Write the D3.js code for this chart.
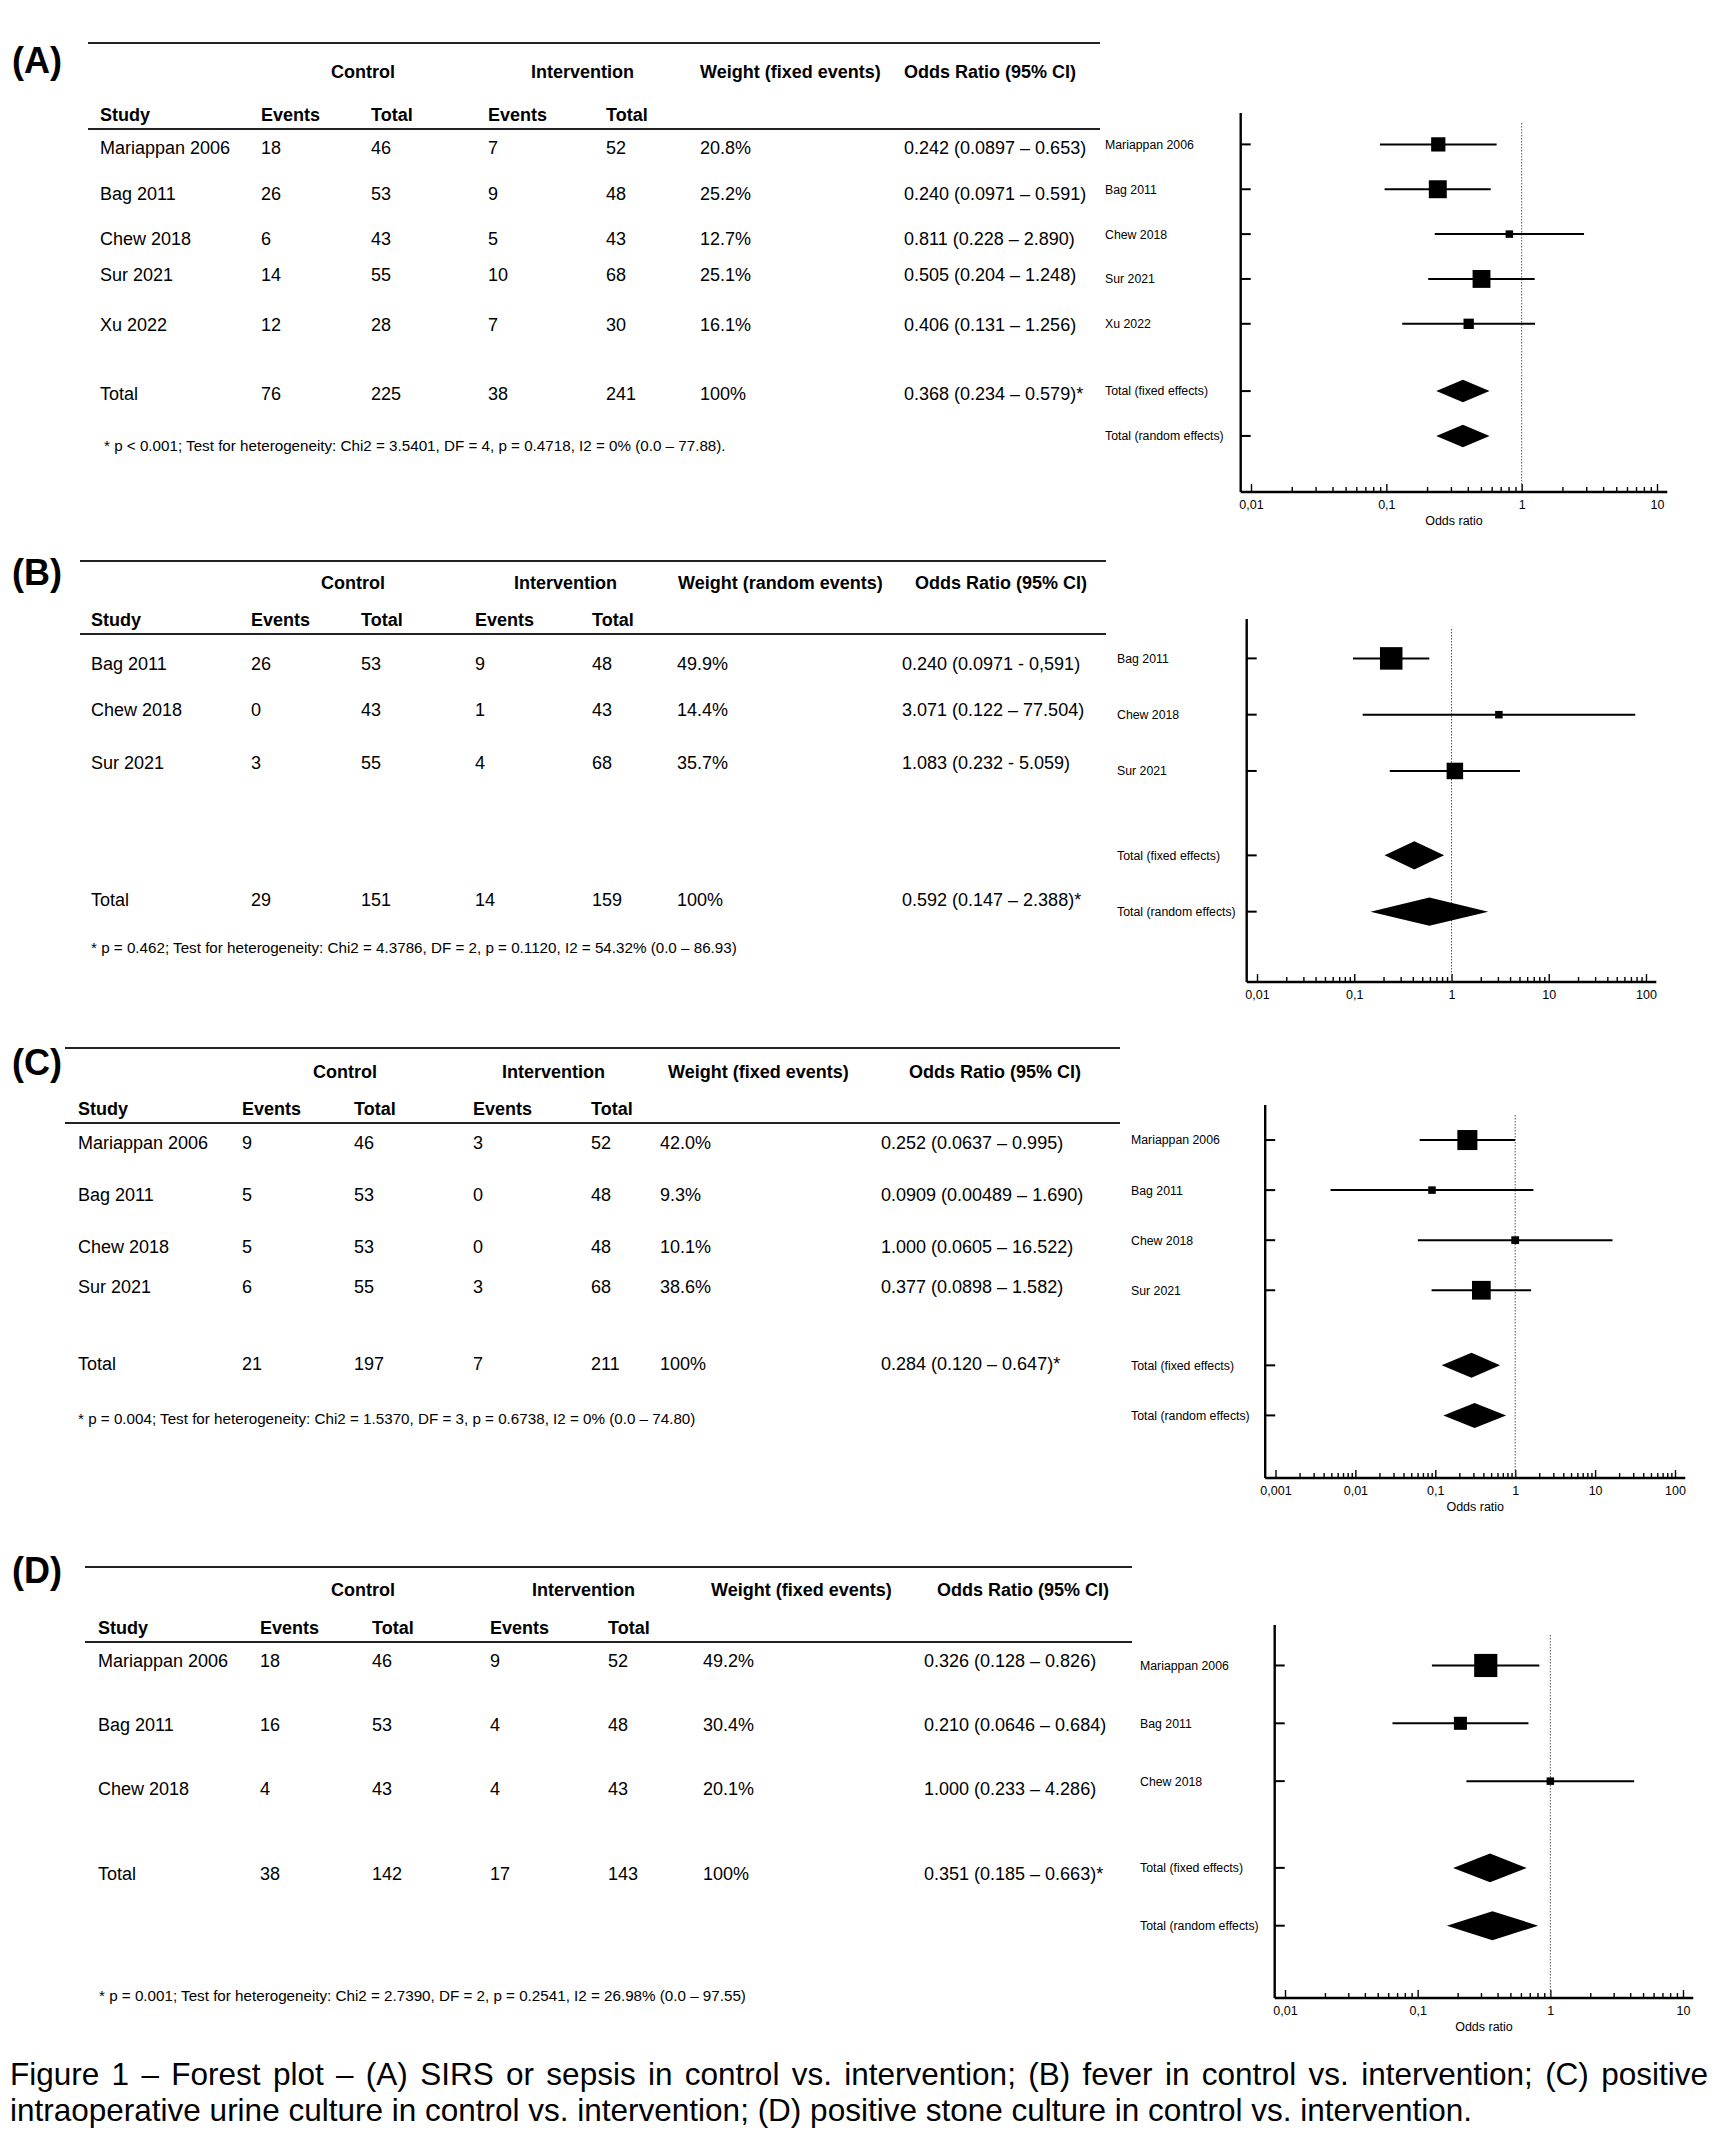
<!DOCTYPE html>
<html>
<head>
<meta charset="utf-8">
<script src="https://cdn.jsdelivr.net/npm/d3@7"></script>
<style>
body { margin: 0; background: #fff; }
text { font-family: "Liberation Sans", Arial, sans-serif; fill: #000; }
</style>
</head>
<body>
<div id="vis"></div>
<script>
// ---------- data ----------
// (A) SIRS or sepsis
var studiesA = ["Mariappan 2006", "Bag 2011", "Chew 2018", "Sur 2021", "Xu 2022"];
var ctrlEventsA = [18, 26, 6, 14, 12];
var ctrlTotalA = [46, 53, 43, 55, 28];
var intEventsA = [7, 9, 5, 10, 7];
var intTotalA = [52, 48, 43, 68, 30];
var weightA = [20.8, 25.2, 12.7, 25.1, 16.1];
var orA = [0.242, 0.240, 0.811, 0.505, 0.406];
var loA = [0.0897, 0.0971, 0.228, 0.204, 0.131];
var hiA = [0.653, 0.591, 2.890, 1.248, 1.256];
var orTextA = ["0.242 (0.0897 – 0.653)", "0.240 (0.0971 – 0.591)", "0.811 (0.228 – 2.890)", "0.505 (0.204 – 1.248)", "0.406 (0.131 – 1.256)"];
var totalA = [76, 225, 38, 241];
var totalTextA = "0.368 (0.234 – 0.579)*";
var fixedA = [0.368, 0.234, 0.579];
var randomA = [0.368, 0.234, 0.579];
var ticksA = [0.01, 0.1, 1, 10];
var noteA = "* p < 0.001; Test for heterogeneity: Chi2 = 3.5401, DF = 4, p = 0.4718, I2 = 0% (0.0 – 77.88).";

// (B) fever
var studiesB = ["Bag 2011", "Chew 2018", "Sur 2021"];
var ctrlEventsB = [26, 0, 3];
var ctrlTotalB = [53, 43, 55];
var intEventsB = [9, 1, 4];
var intTotalB = [48, 43, 68];
var weightB = [49.9, 14.4, 35.7];
var orB = [0.240, 3.071, 1.083];
var loB = [0.0971, 0.122, 0.232];
var hiB = [0.591, 77.504, 5.059];
var orTextB = ["0.240 (0.0971 - 0,591)", "3.071 (0.122 – 77.504)", "1.083 (0.232 - 5.059)"];
var totalB = [29, 151, 14, 159];
var totalTextB = "0.592 (0.147 – 2.388)*";
var fixedB = [0.415, 0.205, 0.84];
var randomB = [0.592, 0.147, 2.388];
var ticksB = [0.01, 0.1, 1, 10, 100];
var noteB = "* p = 0.462; Test for heterogeneity: Chi2 = 4.3786, DF = 2, p = 0.1120, I2 = 54.32% (0.0 – 86.93)";

// (C) positive intraoperative urine culture
var studiesC = ["Mariappan 2006", "Bag 2011", "Chew 2018", "Sur 2021"];
var ctrlEventsC = [9, 5, 5, 6];
var ctrlTotalC = [46, 53, 53, 55];
var intEventsC = [3, 0, 0, 3];
var intTotalC = [52, 48, 48, 68];
var weightC = [42.0, 9.3, 10.1, 38.6];
var orC = [0.252, 0.0909, 1.000, 0.377];
var loC = [0.0637, 0.00489, 0.0605, 0.0898];
var hiC = [0.995, 1.690, 16.522, 1.582];
var orTextC = ["0.252 (0.0637 – 0.995)", "0.0909 (0.00489 – 1.690)", "1.000 (0.0605 – 16.522)", "0.377 (0.0898 – 1.582)"];
var totalC = [21, 197, 7, 211];
var totalTextC = "0.284 (0.120 – 0.647)*";
var fixedC = [0.284, 0.120, 0.647];
var randomC = [0.31, 0.126, 0.77];
var ticksC = [0.001, 0.01, 0.1, 1, 10, 100];
var noteC = "* p = 0.004; Test for heterogeneity: Chi2 = 1.5370, DF = 3, p = 0.6738, I2 = 0% (0.0 – 74.80)";

// (D) positive stone culture
var studiesD = ["Mariappan 2006", "Bag 2011", "Chew 2018"];
var ctrlEventsD = [18, 16, 4];
var ctrlTotalD = [46, 53, 43];
var intEventsD = [9, 4, 4];
var intTotalD = [52, 48, 43];
var weightD = [49.2, 30.4, 20.1];
var orD = [0.326, 0.210, 1.000];
var loD = [0.128, 0.0646, 0.233];
var hiD = [0.826, 0.684, 4.286];
var orTextD = ["0.326 (0.128 – 0.826)", "0.210 (0.0646 – 0.684)", "1.000 (0.233 – 4.286)"];
var totalD = [38, 142, 17, 143];
var totalTextD = "0.351 (0.185 – 0.663)*";
var fixedD = [0.351, 0.185, 0.663];
var randomD = [0.366, 0.166, 0.81];
var ticksD = [0.01, 0.1, 1, 10];
var noteD = "* p = 0.001; Test for heterogeneity: Chi2 = 2.7390, DF = 2, p = 0.2541, I2 = 26.98% (0.0 – 97.55)";

var captionLines = [
  "Figure 1 – Forest plot – (A) SIRS or sepsis in control vs. intervention; (B) fever in control vs. intervention; (C) positive",
  "intraoperative urine culture in control vs. intervention; (D) positive stone culture in control vs. intervention."
];

// ---------- panels (data + layout) ----------
var panels = [
  {id: "(A)", weightHead: "Weight (fixed events)", studies: studiesA, ce: ctrlEventsA, ct: ctrlTotalA, ie: intEventsA, it: intTotalA,
   w: weightA, or: orA, lo: loA, hi: hiA, orText: orTextA, total: totalA, totalText: totalTextA,
   fixed: fixedA, random: randomA, ticks: ticksA, note: noteA,
   L: {labelY: 73, top: 43, h1: 71, h2: 114, rule: 129, x0: 88, x1: 1100,
       cols: [100, 261, 371, 488, 606, 700, 904], head: [331, 531, 700, 904],
       rows: [147, 193, 238, 274, 324], totalY: 393, noteX: 104, noteY: 445,
       fx: [1251, 1657], fTop: 113, fBottom: 492, fLabelX: 1105, xTitle: true}},
  {id: "(B)", weightHead: "Weight (random events)", studies: studiesB, ce: ctrlEventsB, ct: ctrlTotalB, ie: intEventsB, it: intTotalB,
   w: weightB, or: orB, lo: loB, hi: hiB, orText: orTextB, total: totalB, totalText: totalTextB,
   fixed: fixedB, random: randomB, ticks: ticksB, note: noteB,
   L: {labelY: 585, top: 561, h1: 582, h2: 619, rule: 634, x0: 80, x1: 1106,
       cols: [91, 251, 361, 475, 592, 677, 902], head: [321, 514, 678, 915],
       rows: [663, 709, 762], totalY: 899, noteX: 91, noteY: 947,
       fx: [1257, 1646], fTop: 619, fBottom: 982, fLabelX: 1117, xTitle: false}},
  {id: "(C)", weightHead: "Weight (fixed events)", studies: studiesC, ce: ctrlEventsC, ct: ctrlTotalC, ie: intEventsC, it: intTotalC,
   w: weightC, or: orC, lo: loC, hi: hiC, orText: orTextC, total: totalC, totalText: totalTextC,
   fixed: fixedC, random: randomC, ticks: ticksC, note: noteC,
   L: {labelY: 1075, top: 1048, h1: 1071, h2: 1108, rule: 1123, x0: 65, x1: 1120,
       cols: [78, 242, 354, 473, 591, 660, 881], head: [313, 502, 668, 909],
       rows: [1142, 1194, 1246, 1286], totalY: 1363, noteX: 78, noteY: 1418,
       fx: [1275.5, 1675], fTop: 1105, fBottom: 1478, fLabelX: 1131, xTitle: true}},
  {id: "(D)", weightHead: "Weight (fixed events)", studies: studiesD, ce: ctrlEventsD, ct: ctrlTotalD, ie: intEventsD, it: intTotalD,
   w: weightD, or: orD, lo: loD, hi: hiD, orText: orTextD, total: totalD, totalText: totalTextD,
   fixed: fixedD, random: randomD, ticks: ticksD, note: noteD,
   L: {labelY: 1583, top: 1567, h1: 1589, h2: 1627, rule: 1642, x0: 85, x1: 1132,
       cols: [98, 260, 372, 490, 608, 703, 924], head: [331, 532, 711, 937],
       rows: [1660, 1724, 1788], totalY: 1873, noteX: 99, noteY: 1995,
       fx: [1285, 1683], fTop: 1625, fBottom: 1998, fLabelX: 1140, xTitle: true}}
];

var W = 1721, H = 2147;

var svg = d3.select("#vis")
    .append("svg")
    .attr("width", W)
    .attr("height", H)
    .style("display", "block");

svg.append("rect").attr("width", W).attr("height", H).attr("fill", "#fff");

function drawTable(g, p) {
    var L = p.L;
    var fs = 18, off = 6.5;

    g.append("text")
        .attr("x", 12).attr("y", L.labelY)
        .style("font-size", "36px").style("font-weight", "bold")
        .text(p.id);

    [L.top, L.rule].forEach(function(y) {
        g.append("line")
            .attr("x1", L.x0).attr("x2", L.x1)
            .attr("y1", y).attr("y2", y)
            .attr("stroke", "#222").attr("stroke-width", 2);
    });

    var head1 = ["Control", "Intervention", p.weightHead, "Odds Ratio (95% CI)"];
    g.selectAll("text.h1").data(head1).join("text")
        .attr("class", "h1")
        .attr("x", (d, i) => L.head[i]).attr("y", L.h1 + off)
        .style("font-size", fs + "px").style("font-weight", "bold")
        .text(d => d);

    var head2 = ["Study", "Events", "Total", "Events", "Total"];
    g.selectAll("text.h2").data(head2).join("text")
        .attr("class", "h2")
        .attr("x", (d, i) => L.cols[i]).attr("y", L.h2 + off)
        .style("font-size", fs + "px").style("font-weight", "bold")
        .text(d => d);

    // one row of cells per study, then the total row
    var rows = p.studies.map(function(s, i) {
        return {y: L.rows[i], cells: [s, p.ce[i], p.ct[i], p.ie[i], p.it[i], p.w[i].toFixed(1) + "%", p.orText[i]]};
    });
    rows.push({y: L.totalY, cells: ["Total"].concat(p.total, ["100%", p.totalText])});

    rows.forEach(function(r) {
        g.append("g").selectAll("text").data(r.cells).join("text")
            .attr("x", (d, i) => L.cols[i]).attr("y", r.y + off)
            .style("font-size", fs + "px")
            .text(d => d);
    });

    g.append("text")
        .attr("x", L.noteX).attr("y", L.noteY + 5.5)
        .style("font-size", "15.2px")
        .text(p.note);
}

function drawForest(g, p) {
    var L = p.L;
    var n = p.studies.length;
    var x = d3.scaleLog().domain([p.ticks[0], p.ticks[p.ticks.length - 1]]).range(L.fx);
    var y = d3.scaleLinear().domain([-0.7, n + 2.75]).range([L.fTop, L.fBottom]);
    var step = y(1) - y(0);
    var size = d3.scaleLinear().domain(d3.extent(p.w)).range([7.5, 0.4 * step]);
    var left = L.fx[0] - 10.3, right = L.fx[1] + 10.3;

    var minors = [];
    p.ticks.slice(0, -1).forEach(function(t) {
        for (var k = 2; k < 10; k++) minors.push(t * k);
    });

    // x axis
    var fmt = d => String(d).replace(".", ",");
    var ax = g.append("g").attr("transform", "translate(0," + L.fBottom + ")");
    ax.call(d3.axisBottom(x).tickValues(p.ticks).tickSize(-8).tickPadding(8).tickFormat(fmt));
    ax.append("g").call(d3.axisBottom(x).tickValues(minors).tickSize(-5).tickFormat(""));
    ax.selectAll(".domain").remove();
    ax.selectAll("line").attr("stroke", "#000").attr("stroke-width", 1.4);
    ax.selectAll("text")
        .attr("fill", "#000")
        .style("font-size", "12.5px")
        .style("font-family", "'Liberation Sans', Arial, sans-serif");

    g.append("line")
        .attr("x1", left).attr("x2", right)
        .attr("y1", L.fBottom).attr("y2", L.fBottom)
        .attr("stroke", "#000").attr("stroke-width", 2.4);
    g.append("line")
        .attr("x1", left).attr("x2", left)
        .attr("y1", L.fTop).attr("y2", L.fBottom)
        .attr("stroke", "#000").attr("stroke-width", 2.4);

    if (L.xTitle) {
        g.append("text")
            .attr("x", (left + right) / 2).attr("y", L.fBottom + 33)
            .attr("text-anchor", "middle")
            .style("font-size", "12.5px")
            .text("Odds ratio");
    }

    // reference line at OR = 1
    g.append("line")
        .attr("x1", x(1)).attr("x2", x(1))
        .attr("y1", L.fTop + 10).attr("y2", L.fBottom)
        .attr("stroke", "#555").attr("stroke-width", 1)
        .attr("stroke-dasharray", "1.5,1.5");

    var rowsY = p.studies.map((s, i) => y(i)).concat([y(n + 0.5), y(n + 1.5)]);
    var labels = p.studies.concat(["Total (fixed effects)", "Total (random effects)"]);

    g.selectAll("line.ytick").data(rowsY).join("line")
        .attr("class", "ytick")
        .attr("x1", left).attr("x2", left + 10)
        .attr("y1", d => d).attr("y2", d => d)
        .attr("stroke", "#000").attr("stroke-width", 2);

    g.selectAll("text.rlab").data(labels).join("text")
        .attr("class", "rlab")
        .attr("x", L.fLabelX).attr("y", (d, i) => rowsY[i] + 4.4)
        .style("font-size", "12.3px")
        .attr("fill", "#111")
        .text(d => d);

    var studies = p.studies.map((s, i) => ({or: p.or[i], lo: p.lo[i], hi: p.hi[i], w: p.w[i], y: y(i)}));

    g.selectAll("line.ci").data(studies).join("line")
        .attr("class", "ci")
        .attr("x1", d => x(d.lo)).attr("x2", d => x(d.hi))
        .attr("y1", d => d.y).attr("y2", d => d.y)
        .attr("stroke", "#000").attr("stroke-width", 2);

    g.selectAll("rect.box").data(studies).join("rect")
        .attr("class", "box")
        .attr("x", d => x(d.or) - size(d.w) / 2)
        .attr("y", d => d.y - size(d.w) / 2)
        .attr("width", d => size(d.w))
        .attr("height", d => size(d.w))
        .attr("fill", "#000");

    var pooled = [
        {v: p.fixed, y: y(n + 0.5)},
        {v: p.random, y: y(n + 1.5)}
    ];
    var hh = step * 0.25;
    g.selectAll("path.dia").data(pooled).join("path")
        .attr("class", "dia")
        .attr("d", d => "M" + x(d.v[1]) + "," + d.y +
                        "L" + x(d.v[0]) + "," + (d.y - hh) +
                        "L" + x(d.v[2]) + "," + d.y +
                        "L" + x(d.v[0]) + "," + (d.y + hh) + "Z")
        .attr("fill", "#000");
}

panels.forEach(function(p) {
    var g = svg.append("g");
    drawTable(g, p);
    drawForest(g, p);
});

// caption, first line justified to the page width
var cap = svg.append("g");
var capY = [2085, 2121];
cap.selectAll("text").data(captionLines).join("text")
    .attr("x", 10).attr("y", (d, i) => capY[i])
    .style("font-size", "31.5px")
    .attr("fill", "#111")
    .text(d => d);

var first = cap.select("text").node();
var natural = first.getComputedTextLength();
var spaces = captionLines[0].split(" ").length - 1;
var extra = (1708 - 10 - natural) / spaces;
d3.select(first).style("word-spacing", extra + "px");
</script>
</body>
</html>
